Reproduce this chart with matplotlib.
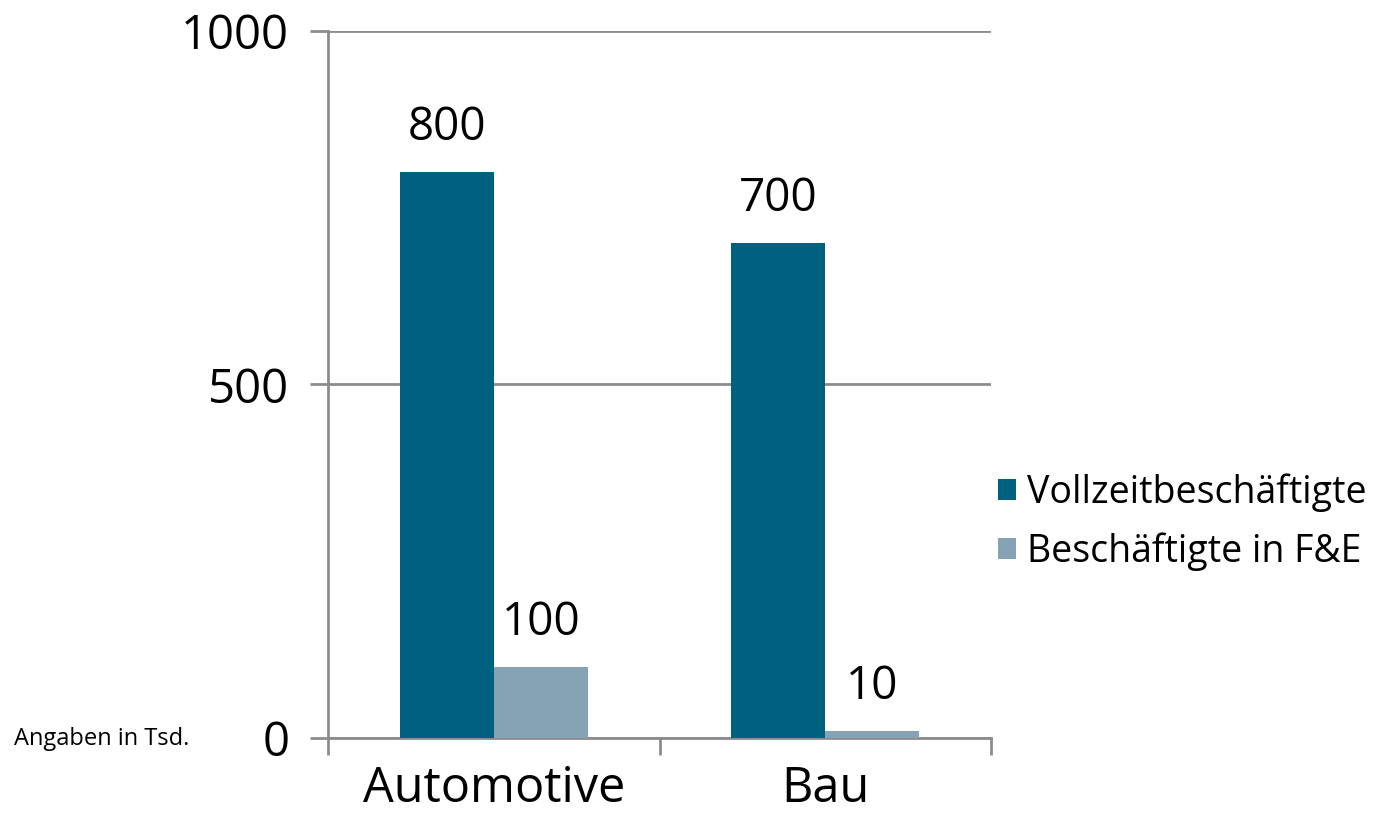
import matplotlib.pyplot as plt
import numpy as np

categories = ['Automotive', 'Bau']
vollzeit = [800, 700]
fue = [100, 10]
series_names = ['Vollzeitbeschäftigte', 'Beschäftigte in F&E']
yticks = [0, 500, 1000]

plt.rcParams['font.family'] = ['Open Sans', 'DejaVu Sans']

dark = '#00607f'
light = '#85a3b5'
grey = '#8c8c8c'

fig = plt.figure(figsize=(13.79, 8.16), dpi=100)
ax = fig.add_axes([0.2379, 0.0956, 0.4808, 0.8664])

x = np.arange(len(categories))
w = 0.284
b1 = ax.bar(x - w/2, vollzeit, w, color=dark, label=series_names[0], zorder=3)
b2 = ax.bar(x + w/2, fue, w, color=light, label=series_names[1], zorder=3)

for bars, vals in [(b1, vollzeit), (b2, fue)]:
    for r, v in zip(bars, vals):
        ax.text(r.get_x() + r.get_width()/2, v + 30, str(v), ha='center', va='bottom', fontsize=33)

ax.set_xlim(-0.5, len(categories) - 0.5)
ax.set_ylim(0, 1000)
ax.set_yticks(yticks)
ax.set_yticklabels([str(t) for t in yticks], fontsize=34)
ax.set_xticks(x)
ax.set_xticklabels(categories, fontsize=35)
ax.set_xticks(np.arange(len(categories) + 1) - 0.5, minor=True)
ax.tick_params(axis='x', which='major', length=0, pad=19)
ax.tick_params(axis='x', which='minor', length=12, width=2, color=grey)
ax.tick_params(axis='y', length=13, width=2, color=grey, pad=15)

for s in ['top', 'right']:
    ax.spines[s].set_visible(False)
for s in ['left', 'bottom']:
    ax.spines[s].set_color(grey)
    ax.spines[s].set_linewidth(2)
ax.yaxis.grid(True, color=grey, linewidth=2, zorder=0)
ax.set_axisbelow(True)

fig.text(0.0102, 0.094, 'Angaben in Tsd.', fontsize=17, va='center')

fig.legend(handles=[b1, b2], loc='center left', bbox_to_anchor=(0.7237, 0.36),
           frameon=False, fontsize=27, handlelength=0.48, handleheight=0.48,
           handletextpad=0.3, labelspacing=0.55, borderpad=0, borderaxespad=0)

fig.savefig('out.png', dpi=100)
